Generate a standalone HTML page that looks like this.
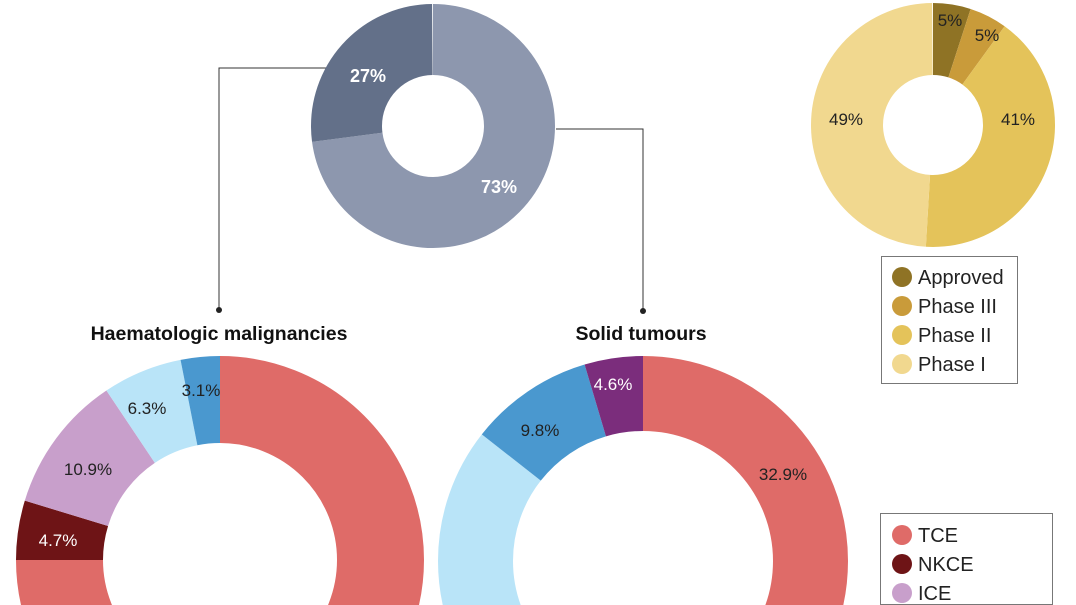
<!DOCTYPE html>
<html><head><meta charset="utf-8"><style>
html,body{margin:0;padding:0;background:#fff;width:1076px;height:605px;overflow:hidden;}
svg{display:block;font-family:"Liberation Sans",sans-serif;}
</style></head><body>
<svg width="1076" height="605" viewBox="0 0 1076 605" xmlns="http://www.w3.org/2000/svg">
<g stroke="#333" stroke-width="1" fill="none">
<polyline points="330,68 219,68 219,309"/>
<polyline points="556,129 643,129 643,310"/>
</g>
<circle cx="219" cy="310" r="3" fill="#222"/>
<circle cx="643" cy="311" r="3" fill="#222"/>

<g transform="rotate(-90 433 126)" fill="none" stroke-width="71">
<circle cx="433" cy="126" r="86.5" pathLength="100" stroke="#8d97ae" stroke-dasharray="73 100" stroke-dashoffset="0"/>
<circle cx="433" cy="126" r="86.5" pathLength="100" stroke="#637089" stroke-dasharray="27 100" stroke-dashoffset="-73"/>
</g>
<text x="368" y="82" fill="#fff" font-size="18" font-weight="bold" text-anchor="middle">27%</text>
<text x="499" y="193" fill="#fff" font-size="18" font-weight="bold" text-anchor="middle">73%</text>

<g transform="rotate(-90 933 125)" fill="none" stroke-width="72">
<circle cx="933" cy="125" r="86" pathLength="100" stroke="#8f7325" stroke-dasharray="5 100" stroke-dashoffset="0"/>
<circle cx="933" cy="125" r="86" pathLength="100" stroke="#c99b3a" stroke-dasharray="5 100" stroke-dashoffset="-5"/>
<circle cx="933" cy="125" r="86" pathLength="100" stroke="#e4c35a" stroke-dasharray="41 100" stroke-dashoffset="-10"/>
<circle cx="933" cy="125" r="86" pathLength="100" stroke="#f1d88f" stroke-dasharray="49 100" stroke-dashoffset="-51"/>
</g>
<g font-size="17" fill="#222" text-anchor="middle">
<text x="950" y="26">5%</text>
<text x="987" y="41">5%</text>
<text x="1018" y="125">41%</text>
<text x="846" y="125">49%</text>
</g>

<rect x="881.5" y="256.5" width="136" height="127" fill="#fff" stroke="#777" stroke-width="1"/>
<circle cx="902" cy="277" r="10" fill="#8f7325"/>
<circle cx="902" cy="306" r="10" fill="#c99b3a"/>
<circle cx="902" cy="335" r="10" fill="#e4c35a"/>
<circle cx="902" cy="364" r="10" fill="#f1d88f"/>
<g font-size="20" fill="#222">
<text x="918" y="284">Approved</text>
<text x="918" y="313">Phase III</text>
<text x="918" y="342">Phase II</text>
<text x="918" y="371">Phase I</text>
</g>

<text x="219" y="340" font-size="19.5" font-weight="bold" fill="#111" text-anchor="middle">Haematologic malignancies</text>
<text x="641" y="340" font-size="19.5" font-weight="bold" fill="#111" text-anchor="middle">Solid tumours</text>

<g transform="rotate(-90 220 560)" fill="none" stroke-width="87">
<circle cx="220" cy="560" r="160.5" pathLength="100" stroke="#df6b68" stroke-dasharray="75 100" stroke-dashoffset="0"/>
<circle cx="220" cy="560" r="160.5" pathLength="100" stroke="#6e1416" stroke-dasharray="4.7 100" stroke-dashoffset="-75"/>
<circle cx="220" cy="560" r="160.5" pathLength="100" stroke="#c89fcb" stroke-dasharray="10.9 100" stroke-dashoffset="-79.7"/>
<circle cx="220" cy="560" r="160.5" pathLength="100" stroke="#b9e4f8" stroke-dasharray="6.3 100" stroke-dashoffset="-90.6"/>
<circle cx="220" cy="560" r="160.5" pathLength="100" stroke="#4a98cf" stroke-dasharray="3.1 100" stroke-dashoffset="-96.9"/>
</g>
<g font-size="17" text-anchor="middle" fill="#222">
<text x="201" y="396">3.1%</text>
<text x="147" y="414">6.3%</text>
<text x="88" y="475">10.9%</text>
<text x="58" y="546" fill="#fff">4.7%</text>
</g>

<g transform="rotate(-90 643 561)" fill="none" stroke-width="75">
<circle cx="643" cy="561" r="167.5" pathLength="100" stroke="#df6b68" stroke-dasharray="32.9 100" stroke-dashoffset="0"/>
<circle cx="643" cy="561" r="167.5" pathLength="100" stroke="#b9e4f8" stroke-dasharray="52.7 100" stroke-dashoffset="-32.9"/>
<circle cx="643" cy="561" r="167.5" pathLength="100" stroke="#4a98cf" stroke-dasharray="9.8 100" stroke-dashoffset="-85.6"/>
<circle cx="643" cy="561" r="167.5" pathLength="100" stroke="#7b2d7c" stroke-dasharray="4.6 100" stroke-dashoffset="-95.4"/>
</g>
<g font-size="17" text-anchor="middle" fill="#222">
<text x="613" y="390" fill="#fff">4.6%</text>
<text x="540" y="436">9.8%</text>
<text x="783" y="480">32.9%</text>
</g>

<rect x="880.5" y="513.5" width="172" height="91" fill="#fff" stroke="#777" stroke-width="1"/>
<circle cx="902" cy="535" r="10" fill="#df6b68"/>
<circle cx="902" cy="564" r="10" fill="#6e1416"/>
<circle cx="902" cy="593" r="10" fill="#c89fcb"/>
<g font-size="20" fill="#222">
<text x="918" y="542">TCE</text>
<text x="918" y="571">NKCE</text>
<text x="918" y="600">ICE</text>
</g>
</svg>
</body></html>
